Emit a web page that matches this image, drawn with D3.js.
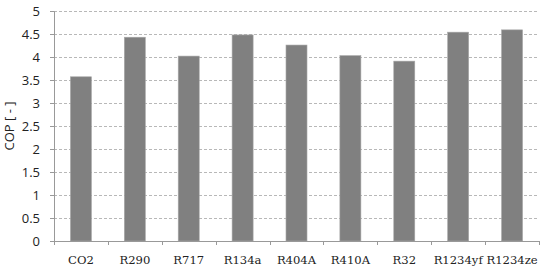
<!DOCTYPE html>
<html>
<head>
<meta charset="utf-8">
<script src="https://cdn.jsdelivr.net/npm/d3@7"></script>
<style>
  body { margin: 0; background: #fff; }
  .y-axis text { font-family: "Open Sans", sans-serif; font-size: 13px; fill: #222; }
  .x-axis text { font-family: "DejaVu Serif", serif; font-size: 11.6px; fill: #222; }
</style>
</head>
<body>
<svg id="chart" width="545" height="270"></svg>
<script>
var refrigerants = ["CO2", "R290", "R717", "R134a", "R404A", "R410A", "R32", "R1234yf", "R1234ze"];
var copValues = [3.57, 4.43, 4.02, 4.48, 4.26, 4.03, 3.91, 4.54, 4.59];
var yTicks = [0, 0.5, 1, 1.5, 2, 2.5, 3, 3.5, 4, 4.5, 5];

var svg = d3.select("#chart");
var margin = { top: 11, right: 6, bottom: 29, left: 54 }
    , width = svg.attr("width") - margin.left - margin.right
    , height = svg.attr("height") - margin.top - margin.bottom;

var xScale = d3.scaleBand()
    .domain(refrigerants)
    .range([0, width])
    .paddingInner(0.61)
    .paddingOuter(0.305);

var yScale = d3.scaleLinear()
    .domain([0, 5])
    .range([height, 0]);

var g = svg.append("g")
    .attr("transform", `translate(${margin.left},${margin.top})`);

// dashed gridlines
g.selectAll(".grid")
    .data(yTicks.filter(d => d > 0))
    .enter()
    .append("line")
    .attr("x1", 0)
    .attr("x2", width)
    .attr("y1", d => Math.round(yScale(d)) + 0.5)
    .attr("y2", d => Math.round(yScale(d)) + 0.5)
    .attr("stroke", "#b8b8b8")
    .attr("stroke-dasharray", "3,2");

// bars
g.selectAll(".bar")
    .data(refrigerants)
    .enter()
    .append("rect")
    .attr("x", d => xScale(d))
    .attr("y", (d, i) => yScale(copValues[i]))
    .attr("width", xScale.bandwidth())
    .attr("height", (d, i) => height - yScale(copValues[i]))
    .attr("fill", "#808080")
    .attr("stroke", "#a8a8a8")
    .attr("stroke-width", 0.6);

// y axis
var yAxis = g.append("g")
    .classed("y-axis", true)
    .call(d3.axisLeft(yScale).tickValues(yTicks).tickFormat(d3.format("")).tickSize(4).tickPadding(10));
yAxis.select(".domain").attr("stroke", "#999");
yAxis.selectAll(".tick line").attr("stroke", "#999");

// x axis with ticks at band edges
var xAxis = g.append("g")
    .classed("x-axis", true)
    .attr("transform", `translate(0,${height})`)
    .call(d3.axisBottom(xScale).tickSize(0).tickPadding(15));
xAxis.select(".domain").attr("stroke", "#999");

var step = xScale.step();
g.selectAll(".xtick")
    .data(d3.range(refrigerants.length + 1))
    .enter()
    .append("line")
    .attr("x1", i => Math.round(i * step) + 0.5)
    .attr("x2", i => Math.round(i * step) + 0.5)
    .attr("y1", height)
    .attr("y2", height + 4)
    .attr("stroke", "#999");

// y label
svg.append("text")
    .attr("transform", "rotate(-90)")
    .attr("x", -126)
    .attr("y", 14)
    .style("text-anchor", "middle")
    .style("font-family", "Open Sans, sans-serif")
    .style("font-size", "13px")
    .style("fill", "#222")
    .text("COP [ - ]");
</script>
</body>
</html>
